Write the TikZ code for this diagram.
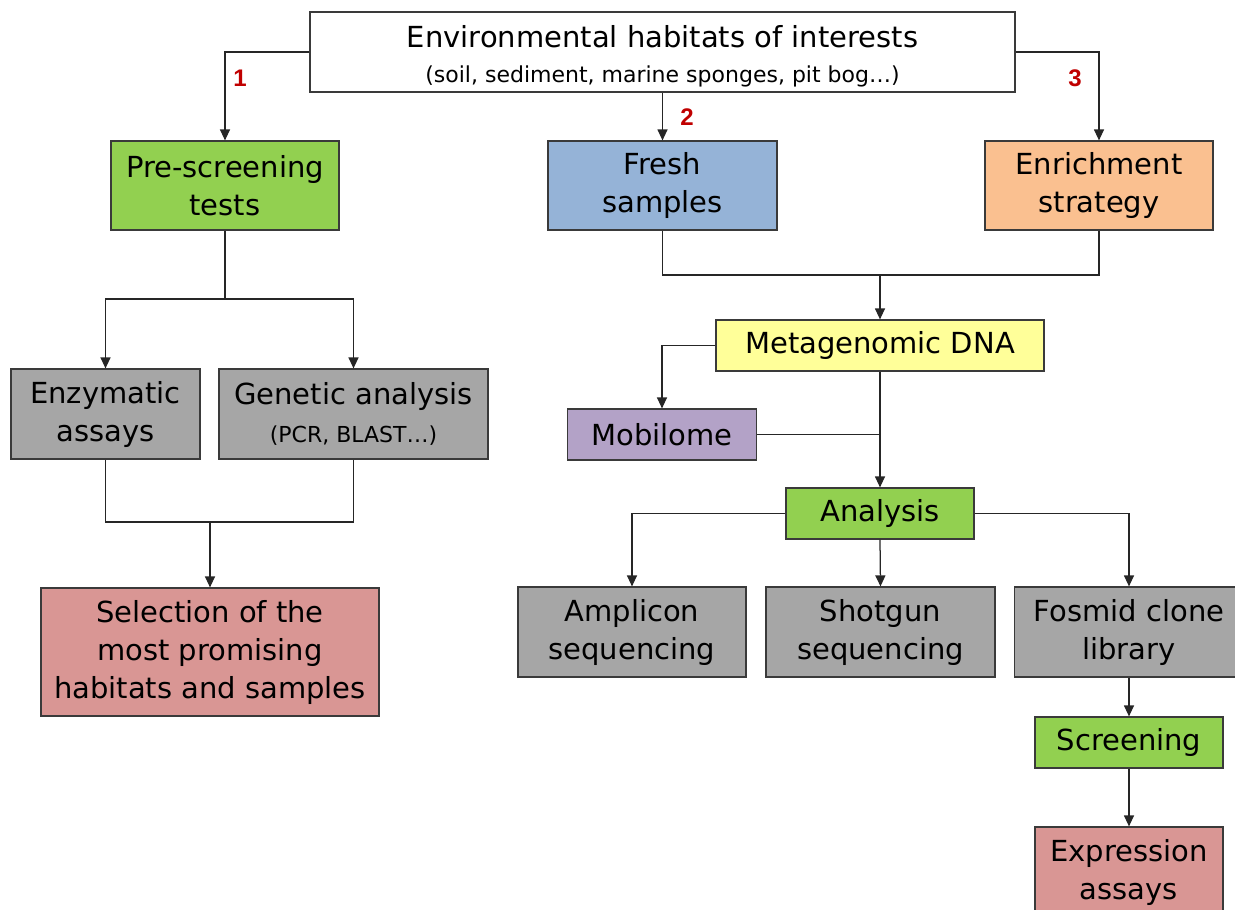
\documentclass[tikz,border=0pt]{standalone}
\usepackage{fontspec}
\setmainfont{DejaVu Sans}
\newfontfamily\numfont{Liberation Sans}
\usetikzlibrary{arrows.meta}
\definecolor{cgreen}{HTML}{92D050}
\definecolor{cblue}{HTML}{95B3D7}
\definecolor{corange}{HTML}{FAC090}
\definecolor{cgray}{HTML}{A6A6A6}
\definecolor{cpink}{HTML}{D99694}
\definecolor{cyellow}{HTML}{FFFF99}
\definecolor{cpurple}{HTML}{B3A2C7}
\definecolor{cborder}{HTML}{3A3A3A}
\definecolor{cnum}{HTML}{C00000}
\newcommand\subtxt{\fontsize{22}{26}\selectfont}
\tikzset{
  box/.style={draw=cborder, line width=1.2pt, align=center, inner sep=0pt,
    font=\fontsize{29}{38}\selectfont, text=black},
  conn/.style={draw=black!85, line width=1.25pt},
  arr/.style={conn, -{Triangle[length=11pt,width=10pt]}},
  num/.style={font=\numfont\bfseries\fontsize{24}{24}\selectfont, text=cnum}
}
\begin{document}
\begin{tikzpicture}[x=1pt,y=-1pt]
\useasboundingbox (0,0) rectangle (1235,910);
\clip (0,0) rectangle (1235,910);

% source
\node[box, fill=white, minimum width=705, minimum height=80] (top) at (662.5,52)
  {\rule{0pt}{30pt}Environmental habitats of interests\\[-3pt]{\subtxt (soil, sediment, marine sponges, pit bog…)}};

% three routes
\node[box, fill=cgreen, minimum width=228, minimum height=89] (pre) at (225,185.5) {Pre-screening\\tests};
\node[box, fill=cblue, minimum width=229, minimum height=89] (fresh) at (662.5,185.5) {Fresh\\samples};
\node[box, fill=corange, minimum width=228, minimum height=89] (enr) at (1099,185.5) {Enrichment\\strategy};

% pre-screening branch
\node[box, fill=cgray, minimum width=189, minimum height=90] (enz) at (105.5,414) {Enzymatic\\assays};
\node[box, fill=cgray, minimum width=269, minimum height=90] (gen) at (353.5,414) {Genetic analysis\\{\subtxt (PCR, BLAST…)}};
\node[box, fill=cpink, minimum width=338, minimum height=128] (sel) at (210,652) {Selection of the\\most promising\\habitats and samples};

% metagenomic branch
\node[box, fill=cyellow, minimum width=328, minimum height=51] (meta) at (880,345.5) {Metagenomic DNA};
\node[box, fill=cpurple, minimum width=189, minimum height=51] (mob) at (662,434.5) {Mobilome};
\node[box, fill=cgreen, minimum width=188, minimum height=51] (ana) at (880,513.5) {Analysis};
\node[box, fill=cgray, minimum width=228, minimum height=90] (amp) at (632,632) {Amplicon\\sequencing};
\node[box, fill=cgray, minimum width=229, minimum height=90] (shot) at (880.5,632) {Shotgun\\sequencing};
\node[box, fill=cgray, minimum width=229, minimum height=90] (fos) at (1129,632) {Fosmid clone\\library};
\node[box, fill=cgreen, minimum width=188, minimum height=51] (scr) at (1129,742.5) {Screening};
\node[box, fill=cpink, minimum width=188, minimum height=90] (exp) at (1129,872) {Expression\\assays};

% route numbers
\node[num] (n1) at (240,78) {1};
\node[num] (n2) at (687,117) {2};
\node[num] (n3) at (1075,78) {3};

% junction points
\coordinate (j1) at (225,299);
\coordinate (j2) at (210,522);
\coordinate (j3) at (880,275);

% connectors
\draw[arr] (top.west) -| (pre.north);
\draw[arr] (top.south) -- (fresh.north);
\draw[arr] (top.east) -| (enr.north);

\draw[conn] (pre.south) -- (j1);
\draw[arr] (j1) -| (enz.north);
\draw[arr] (j1) -| (gen.north);
\draw[conn] (enz.south) |- (j2) -| (gen.south);
\draw[arr] (j2) -- (sel.north);

\draw[conn] (fresh.south) |- (j3) -| (enr.south);
\draw[arr] (j3) -- (meta.north);
\draw[arr] (meta.west) -| (mob.north);
\draw[arr] (meta.south) -- (ana.north);
\draw[conn] (mob.east) -- (mob.east -| meta.south);

\draw[arr] (ana.west) -| (amp.north);
\draw[arr] (ana.south) -- (shot.north);
\draw[arr] (ana.east) -| (fos.north);
\draw[arr] (fos.south) -- (scr.north);
\draw[arr] (scr.south) -- (exp.north);
\end{tikzpicture}
\end{document}
